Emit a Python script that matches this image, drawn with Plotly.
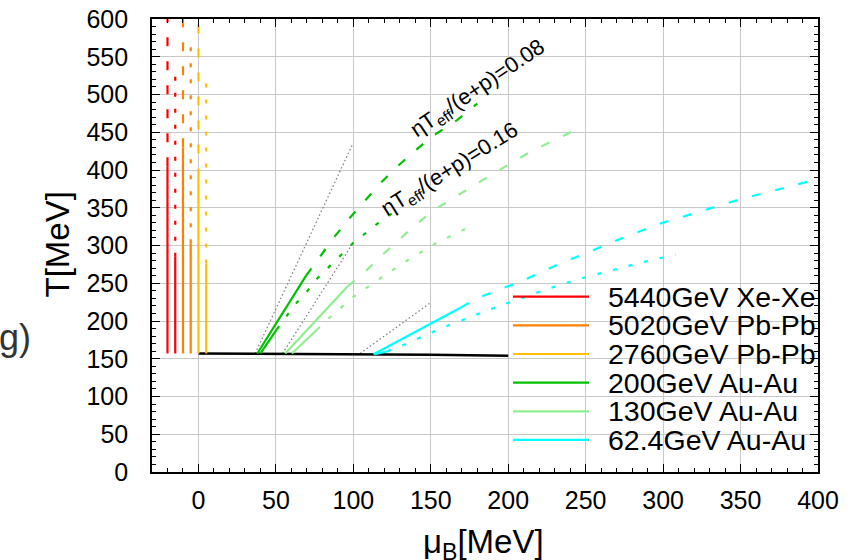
import plotly.graph_objects as go

# ---------------- data ----------------
names = ["5440GeV Xe-Xe", "5020GeV Pb-Pb", "2760GeV Pb-Pb",
         "200GeV Au-Au", "130GeV Au-Au", "62.4GeV Au-Au"]
colors = ["#ff0000", "#ff8000", "#ffc000", "#00c000", "#90ee90", "#00ffff"]

# chemical freeze-out line
fo_mu = [0, 100, 150, 200]
fo_T = [157, 156, 155.3, 154]

# LHC energies (drawn as vertical lines, shifted in mu_B for visibility)
lhc_T_start = [157, 157, 157]
lhc_mu_08 = [-20, -10, 0]
lhc_solid_top_08 = [405, 430, 390]
lhc_dash_top_08 = [600, 600, 600]
lhc_mu_16 = [-15, -5, 5]
lhc_solid_top_16 = [285, 303, 276]
lhc_dot_top_16 = [528, 566, 515]

# 200 GeV Au-Au
au200_solid08_mu = [38, 69.5]
au200_solid08_T = [157, 260]
au200_dash08_mu = [69.5, 78.6, 87.6, 97.5, 107.6, 117.7, 128, 140, 152, 167, 180]
au200_dash08_T = [260, 286, 311, 336, 360, 383, 404, 426, 446, 466, 488]
au200_solid16_mu = [40, 50.6]
au200_solid16_T = [157, 189]
au200_dot16_mu = [50.6, 56.4, 62.9, 70, 76.5, 84.4, 91.9, 99.7, 108.3, 116.2, 126]
au200_dot16_T = [189, 205, 223, 239, 256, 272, 287, 303, 317, 330, 344]

# 130 GeV Au-Au
au130_solid08_mu = [56, 96.4]
au130_solid08_T = [157, 246]
au130_dash08_mu = [96.4, 106.5, 117.3, 128, 140, 152, 167, 192.6, 216, 248.5]
au130_dash08_T = [246, 263, 285, 305, 327, 347, 366, 398, 426, 458]
au130_solid16_mu = [60.3, 76.5]
au130_solid16_T = [157, 188.5]
au130_dot16_mu = [76.5, 84.4, 100, 118.4, 137, 155, 175.4]
au130_dot16_T = [188.5, 204, 232, 258, 283, 305, 325]

# 62.4 GeV Au-Au
au62_solid08_mu = [113, 169.5]
au62_solid08_T = [156, 218]
au62_dash08_mu = [169.5, 179.6, 192.6, 207.6, 221.6, 235.6, 250.6, 264.6, 278.6, 298, 349.5, 400]
au62_dash08_T = [218, 229.6, 240.6, 251.7, 265, 278, 290, 302.6, 313.6, 329, 361, 388]
au62_solid16_mu = [114, 122]
au62_solid16_T = [156, 160]
au62_dot16_mu = [122, 134.5, 144, 160, 174, 193, 215, 235, 250, 266, 285, 308]
au62_dot16_T = [160, 170, 179, 193, 204, 219, 235, 249, 258, 267, 277, 288]

# constant mu_B/T guide lines (grey dotted)
guide_mu = [[36.6, 99.7], [54.3, 99.7], [104.4, 149.7]]
guide_T = [[157, 435], [157, 303], [157, 224]]

# axis ticks
x_ticks = [0, 50, 100, 150, 200, 250, 300, 350, 400]
y_ticks = [0, 50, 100, 150, 200, 250, 300, 350, 400, 450, 500, 550, 600]

label_08 = "ηT<sub>eff</sub>/(e+p)=0.08"
label_16 = "ηT<sub>eff</sub>/(e+p)=0.16"

# ---------------- figure ----------------
FONT = "Liberation Sans, Arial, sans-serif"
W_LINE = 2.2
DASH = "9px,15px"
DOT = "4px,12px"

fig = go.Figure()


def add(mu, T, color, dash="solid", width=W_LINE, name=None):
    fig.add_trace(go.Scatter(x=mu, y=T, mode="lines", name=name,
                             line=dict(color=color, width=width, dash=dash),
                             showlegend=False, hoverinfo="skip"))


for g in range(len(guide_mu)):
    add(guide_mu[g], guide_T[g], "#808080", dash="1.5px,2.5px", width=1.3)

add(fo_mu, fo_T, "#000000", width=2.5, name="freeze-out")

for i in range(3):
    c = colors[i]
    add([lhc_mu_08[i]] * 2, [lhc_T_start[i], lhc_solid_top_08[i]], c, name=names[i])
    add([lhc_mu_08[i]] * 2, [lhc_solid_top_08[i], lhc_dash_top_08[i]], c, dash=DASH)
    add([lhc_mu_16[i]] * 2, [lhc_T_start[i], lhc_solid_top_16[i]], c)
    add([lhc_mu_16[i]] * 2, [lhc_solid_top_16[i], lhc_dot_top_16[i]], c, dash=DOT)

rhic = [
    (au200_solid08_mu, au200_solid08_T, au200_dash08_mu, au200_dash08_T,
     au200_solid16_mu, au200_solid16_T, au200_dot16_mu, au200_dot16_T),
    (au130_solid08_mu, au130_solid08_T, au130_dash08_mu, au130_dash08_T,
     au130_solid16_mu, au130_solid16_T, au130_dot16_mu, au130_dot16_T),
    (au62_solid08_mu, au62_solid08_T, au62_dash08_mu, au62_dash08_T,
     au62_solid16_mu, au62_solid16_T, au62_dot16_mu, au62_dot16_T),
]
for k, r in enumerate(rhic):
    c = colors[3 + k]
    add(r[0], r[1], c, name=names[3 + k])
    add(r[2], r[3], c, dash=DASH)
    add(r[4], r[5], c)
    add(r[6], r[7], c, dash=DOT)

# plot-area geometry in pixels (for the hand-drawn key)
L, R, TOP, BOT = 152, 818, 19, 472
PW, PH = R - L, BOT - TOP


def px(xp):
    return (xp - L) / PW


def py(yp):
    return (BOT - yp) / PH


shapes = [dict(type="rect", xref="paper", yref="paper", x0=px(497), x1=1,
               y0=0, y1=py(284), fillcolor="white", line=dict(width=0),
               layer="between")]
annotations = []
for i in range(len(names)):
    yc = 296.7 + 28.65 * i
    shapes.append(dict(type="line", xref="paper", yref="paper",
                       x0=px(513), x1=px(589), y0=py(yc), y1=py(yc),
                       line=dict(color=colors[i], width=2.2), layer="above"))
    annotations.append(dict(xref="paper", yref="paper", x=px(606), y=py(yc),
                            text=names[i], showarrow=False, xanchor="left",
                            yanchor="middle", font=dict(size=28.5, color="black", family=FONT)))

annotations += [
    dict(x=180.7, y=507, xref="x", yref="y", text=label_08, showarrow=False,
         textangle=-34, font=dict(size=22, color="black", family=FONT)),
    dict(x=162.6, y=400, xref="x", yref="y", text=label_16, showarrow=False,
         textangle=-32, font=dict(size=22, color="black", family=FONT)),
    dict(xref="paper", yref="paper", x=px(36), y=py(245), text="T[MeV]",
         showarrow=False, textangle=-90, font=dict(size=33, color="black", family=FONT)),
    dict(xref="paper", yref="paper", x=px(483), y=py(521), yanchor="top",
         text="μ<sub>B</sub>[MeV]",
         showarrow=False, font=dict(size=33, color="black", family=FONT)),
    dict(xref="paper", yref="paper", x=px(-3), y=py(360), text="g)", xanchor="left",
         showarrow=False, font=dict(size=36, color="#333333", family=FONT)),
]

axis_common = dict(showline=True, linecolor="black", linewidth=1.6, mirror="allticks",
                   ticks="inside", ticklen=8, tickwidth=1.4, tickcolor="black",
                   showgrid=True, gridcolor="#c8c8c8", gridwidth=1.3, zeroline=False,
                   automargin=False,
                   tickfont=dict(size=25, color="black", family=FONT),
                   minor=dict(ticks="inside", ticklen=4, tickwidth=1.2, tickcolor="black",
                              dtick=10, showgrid=False))

fig.update_xaxes(range=[-30, 400], tickmode="array", tickvals=x_ticks,
                 ticktext=[str(v) for v in x_ticks], ticklabelstandoff=5, **axis_common)
fig.update_yaxes(range=[0, 600], tickmode="array", tickvals=y_ticks,
                 ticktext=[str(v) for v in y_ticks], ticklabelstandoff=17, **axis_common)

fig.update_layout(width=860, height=560, margin=dict(l=L, r=860 - R, t=TOP, b=560 - BOT,
                                                     autoexpand=False),
                  plot_bgcolor="white", paper_bgcolor="white", showlegend=False,
                  shapes=shapes, annotations=annotations, font=dict(family=FONT))

fig.write_html("out.html", config={"displayModeBar": False},
               post_script="document.body.style.margin='0px';")
